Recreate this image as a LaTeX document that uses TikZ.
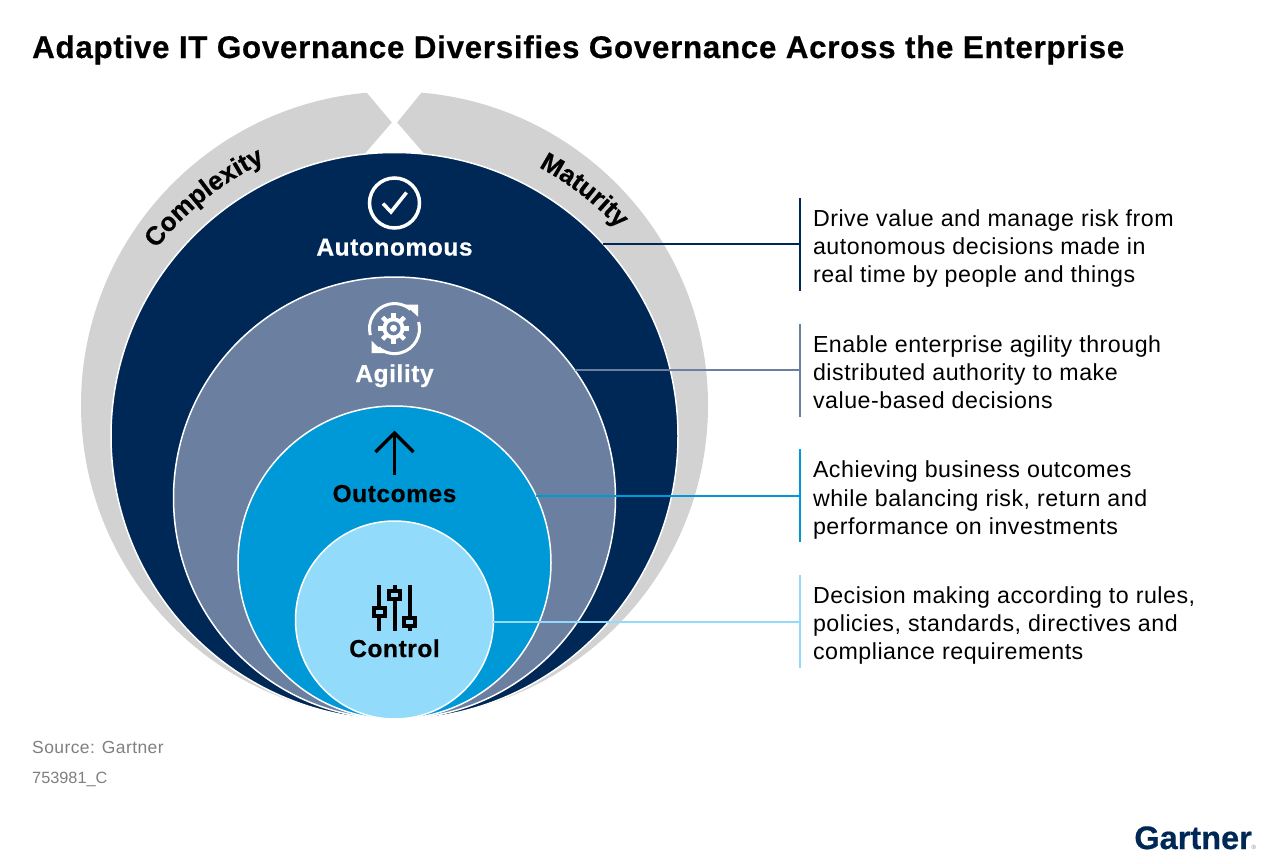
\documentclass[tikz,border=0pt]{standalone}
\usepackage{fontspec}
\setmainfont[LetterSpace=2.3,BoldFeatures={FakeBold=0.5}]{Liberation Sans}
\newfontfamily\plainf[BoldFeatures={FakeBold=0.5}]{Liberation Sans}
\usetikzlibrary{decorations.text}
\definecolor{navy}{HTML}{002856}
\definecolor{agil}{HTML}{6B7FA0}
\definecolor{outc}{HTML}{0099D8}
\definecolor{ctrl}{HTML}{93DBFA}
\definecolor{ringg}{HTML}{D2D2D2}
\definecolor{srcg}{HTML}{7F7F7F}
\tikzset{
  x=1pt,y=1pt,
  disc/.style={circle,inner sep=0,outer sep=0,draw=white,line width=1.5pt},
  head/.style={inner sep=0,outer sep=0,anchor=base,font=\bfseries\fontsize{24.5}{28}\selectfont},
  body/.style={inner sep=0,outer sep=0,anchor=west,align=left,font=\fontsize{23.2}{28.2}\selectfont},
  bar/.style={inner sep=0,outer sep=0,minimum width=1.8pt,minimum height=93pt},
  conn/.style={line width=1.8pt},
  whiteicon/.style={draw=white,line width=3.5pt,fill=none},
  blackicon/.style={draw=black,line width=3.5pt,fill=none},
  slider/.style={draw=black,line width=4pt,fill=ctrl},
}
\begin{document}
\begin{tikzpicture}
\useasboundingbox (0,0) rectangle (1280,-863);
% title
\node[inner sep=0,anchor=base west,font=\bfseries\fontsize{31.32}{36}\selectfont] (title) at (32,-58) {Adaptive IT Governance Diversifies Governance Across the Enterprise};
% outer ring
\node[circle,inner sep=0,outer sep=0,fill=ringg,minimum size=627pt] (ring) at (394.5,-405) {};
\fill[white] (363,-88) -- (392,-122.5) -- (363,-156) -- (426,-156) -- (397,-122.5) -- (425,-88) -- cycle;
% discs
\node[disc,fill=navy,minimum size=567pt] (dA) at (394.5,-436) {};
\node[disc,fill=agil,minimum size=442pt] (dB) at (394.5,-498) {};
\node[disc,fill=outc,minimum size=313pt] (dC) at (394.5,-562.5) {};
\node[disc,fill=ctrl,minimum size=198pt] (dD) at (394.5,-620) {};
% curved labels
\path[decorate,decoration={text along path,text align=center,text={|\bfseries\fontsize{26}{28}\selectfont|Complexity}}]
  (394.5,-436) ++(148.6:303) arc[start angle=148.6,end angle=108.6,radius=303];
\path[decorate,decoration={text along path,text align=center,text={|\bfseries\fontsize{26}{28}\selectfont|Maturity}}]
  (394.5,-436) ++(72.3:305) arc[start angle=72.3,end angle=32.3,radius=305];
% bars
\node[bar,fill=navy] (b1) at (800,-244.5) {};
\node[bar,fill=agil] (b2) at (800,-370) {};
\node[bar,fill=outc] (b3) at (800,-495.5) {};
\node[bar,fill=ctrl] (b4) at (800,-621.5) {};
% connector start points on the disc edges
\coordinate (c1) at ([shift={(42.55:283.5)}]dA.center);
\coordinate (c2) at ([shift={(35.4:221)}]dB.center);
\coordinate (c3) at ([shift={(25.15:156.5)}]dC.center);
\coordinate (c4) at ([shift={(-1.2:99)}]dD.center);
\draw[conn,navy] (c1) -- (c1 -| b1.center);
\draw[conn,agil] (c2) -- (c2 -| b2.center);
\draw[conn,outc] (c3) -- (c3 -| b3.center);
\draw[conn,ctrl] (c4) -- (c4 -| b4.center);
% body texts
\node[body] (t1) at (813,-248.5) {Drive value and manage risk from\\autonomous decisions made in\\real time by people and things};
\node[body] (t2) at (813,-372) {Enable enterprise agility through\\distributed authority to make\\value-based decisions};
\node[body] (t3) at (813,-500) {Achieving business outcomes\\while balancing risk, return and\\performance on investments};
\node[body] (t4) at (813,-625.5) {Decision making according to rules,\\policies, standards, directives and\\compliance requirements};
% disc labels
\node[head,text=white] (l1) at (394.5,-255.5) {Autonomous};
\node[head,text=white] (l2) at (394.5,-382) {Agility};
\node[head,text=black] (l3) at (394.5,-502) {Outcomes};
\node[head,text=black] (l4) at (394.5,-657) {Control};
% check icon
\draw[whiteicon] (394.5,-203) circle[radius=25];
\draw[whiteicon] (383,-203.5) -- (391,-212) -- (406.5,-192.5);
% agility icon
\draw[white,line width=3pt] (394.5,-328.6) ++(195:25) arc[start angle=195,end angle=50,radius=25];
\draw[white,line width=3pt] (394.5,-328.6) ++(15:25) arc[start angle=15,end angle=-130,radius=25];
\fill[white] (405,-304.7) -- (418,-304.7) -- (418,-316.7) -- cycle;
\fill[white] (371.5,-340.7) -- (371.5,-353) -- (384.3,-353) -- cycle;
\foreach \a in {0,45,...,315}{
  \draw[white,line width=4.5pt] (393.5,-328.3) ++(\a:9) -- ++(\a:6.5);
}
\fill[white] (393.5,-328.3) circle[radius=11];
\fill[agil] (393.5,-328.3) circle[radius=7];
\fill[white] (393.5,-328.3) circle[radius=3.5];
% arrow icon
\draw[blackicon] (394.5,-475) -- (394.5,-433);
\draw[blackicon,miter limit=10] (375.5,-452) -- (394.5,-433) -- (413.5,-452);
% sliders
\draw[black,line width=4pt] (379,-585) -- (379,-630.7);
\draw[black,line width=4pt] (394.5,-585) -- (394.5,-630.7);
\draw[black,line width=4pt] (410,-585) -- (410,-630.7);
\draw[slider] (373.7,-607.7) rectangle (385.3,-616.3);
\draw[slider] (389,-591) rectangle (400.3,-599);
\draw[slider] (404,-617.7) rectangle (415.3,-626.3);
% source
\node[inner sep=0,anchor=base west,text=srcg,font=\fontsize{17.5}{20}\selectfont] (src) at (32,-753) {Source: Gartner};
\node[inner sep=0,anchor=base west,text=srcg,font=\plainf\fontsize{16.3}{20}\selectfont] (num) at (32,-783) {753981\_C};
% logo
\node[inner sep=0,anchor=base east,text=navy,font=\plainf\bfseries\fontsize{32.5}{38}\selectfont] (logo) at (1252,-849) {Gartner};
\node[inner sep=0,anchor=base west,text=srcg,font=\plainf\fontsize{6}{6}\selectfont] (reg) at (1251.5,-849) {®};
\end{tikzpicture}
\end{document}
